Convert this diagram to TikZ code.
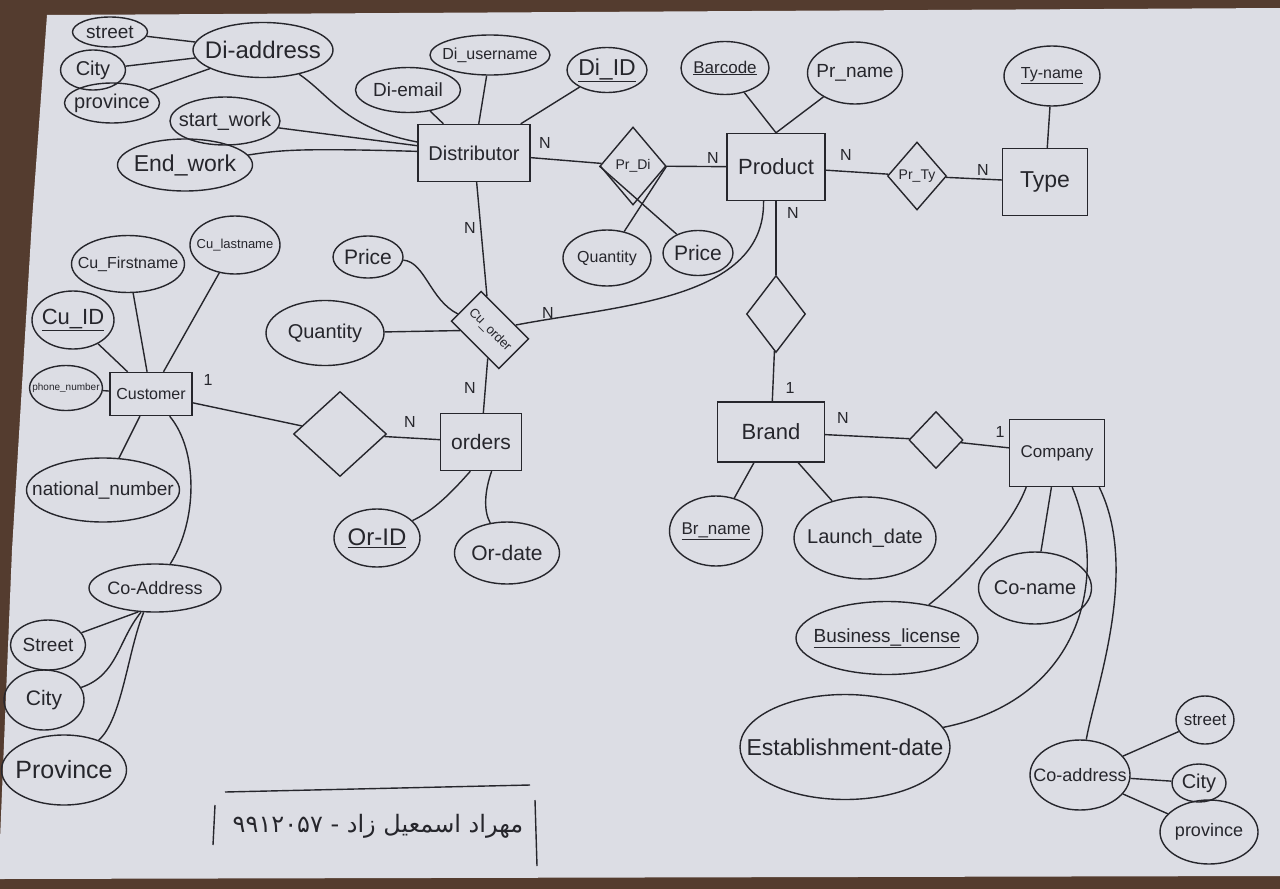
\documentclass[tikz,border=0pt]{standalone}
\usepackage{fontspec}
\setmainfont{Liberation Sans}
\newfontfamily\persianfont[Script=Arabic]{DejaVu Sans}
\TeXXeTstate=1
\usepackage{tikz}
\usetikzlibrary{shapes.geometric, calc, positioning}

\definecolor{ink}{RGB}{38,38,44}
\definecolor{paper}{RGB}{220,221,228}
\definecolor{desk}{RGB}{84,60,47}

\newcommand{\lbl}[1]{\makebox[0pt]{#1}}
\newcommand{\fs}[1]{\fontsize{#1}{#1}\selectfont}

\tikzset{
    sz/.style 2 args={minimum width=#1, minimum height=#2},
    entity/.style={draw=ink, line width=1.4pt, rectangle, inner sep=0pt, text=ink, font=\fs{20}},
    attr/.style={draw=ink, line width=1.4pt, ellipse, inner sep=0pt, text=ink, font=\fs{18}},
    rel/.style={draw=ink, line width=1.4pt, diamond, aspect=1, inner sep=0pt, text=ink, font=\fs{14}},
    card/.style={text=ink, font=\fs{16}},
    link/.style={draw=ink, line width=1.4pt},
}

\begin{document}
\begin{tikzpicture}[x=1pt, y=-1pt]
    % paper on the desk
    \fill[desk] (0,0) rectangle (1280,889);
    \fill[paper] (47,15) -- (1280,8) -- (1280,876) -- (0,879) -- (0,840) -- (12,550) -- (32,220) -- cycle;
    \useasboundingbox (0,0) rectangle (1280,889);

    % entities
    \node[entity, sz={112}{57}] (dist) at (474,153) {Distributor};
    \node[entity, sz={98}{67}, font=\fs{22}] (prod) at (776,167) {Product};
    \node[entity, sz={85}{67}, font=\fs{23}] (type) at (1045,182) {Type};
    \node[entity, sz={82}{43}, font=\fs{16}] (cust) at (151,394) {Customer};
    \node[entity, sz={81}{57}, font=\fs{21}] (ords) at (481,442) {orders};
    \node[entity, sz={107}{60}, font=\fs{22}] (brand) at (771,432) {Brand};
    \node[entity, sz={95}{67}, font=\fs{17}] (comp) at (1057,453) {Company};

    % relationships
    \node[rel, sz={66}{78}] (prdi) at (633,166) {Pr\_Di};
    \node[rel, sz={59}{68}] (prty) at (917,176) {Pr\_Ty};
    \node[draw=ink, line width=1.4pt, rectangle, rotate=-45, sz={67}{42}, inner sep=0pt, text=ink, font=\fs{13}] (cuo) at (490,330) {Cu\_order};
    \node[rel, sz={93}{85}] (cod) at (340,434) {};
    \node[rel, sz={59}{77}] (pbd) at (776,314) {};
    \node[rel, sz={54}{57}] (bcd) at (936,440) {};

    % attributes of Distributor
    \node[attr, sz={140}{55}, font=\fs{24}] (dadr) at (263,50) {\lbl{Di-address}};
    \node[attr, sz={75}{30}, font=\fs{19}] (st1) at (110,32) {\lbl{street}};
    \node[attr, sz={65}{40}, font=\fs{20}] (ct1) at (93,70) {\lbl{City}};
    \node[attr, sz={95}{40}, font=\fs{20}] (pv1) at (112,103) {\lbl{province}};
    \node[attr, sz={110}{48}, font=\fs{20}] (sw) at (225,121) {\lbl{start\_work}};
    \node[attr, sz={135}{52}, font=\fs{23}] (ew) at (185,165) {\lbl{End\_work}};
    \node[attr, sz={105}{45}, font=\fs{19}] (dem) at (408,90) {\lbl{Di-email}};
    \node[attr, sz={120}{40}, font=\fs{16}] (dun) at (490,55) {\lbl{Di\_username}};
    \node[attr, sz={80}{45}, font=\fs{23}] (did) at (607,70) {\lbl{\underline{Di\_ID}}};

    % attributes of Product, Type and Pr_Di
    \node[attr, sz={88}{53}, font=\fs{17}] (barc) at (725,68) {\lbl{\underline{Barcode}}};
    \node[attr, sz={95}{62}, font=\fs{19}] (prnm) at (855,73) {\lbl{Pr\_name}};
    \node[attr, sz={96}{60}, font=\fs{16}] (tynm) at (1052,76) {\lbl{\underline{Ty-name}}};
    \node[attr, sz={88}{56}, font=\fs{16}] (qt1) at (607,258) {\lbl{Quantity}};
    \node[attr, sz={70}{45}, font=\fs{21}] (pr1) at (698,253) {\lbl{Price}};

    % attributes of Customer
    \node[attr, sz={113}{57}, font=\fs{16}] (cfn) at (128,264) {\lbl{Cu\_Firstname}};
    \node[attr, sz={90}{58}, font=\fs{13}] (cln) at (235,245) {\lbl{Cu\_lastname}};
    \node[attr, sz={82}{58}, font=\fs{22}] (cid) at (73,320) {\lbl{\underline{Cu\_ID}}};
    \node[attr, sz={73}{45}, font=\fs{10}] (phn) at (66,388) {\lbl{phone\_number}};
    \node[attr, sz={153}{64}, font=\fs{19}] (nat) at (103,490) {\lbl{national\_number}};
    \node[attr, sz={132}{48}, font=\fs{18}] (cadr) at (155,588) {\lbl{Co-Address}};
    \node[attr, sz={75}{50}, font=\fs{19}] (st2) at (48,645) {\lbl{Street}};
    \node[attr, sz={80}{60}, font=\fs{21}] (ct2) at (44,700) {\lbl{City}};
    \node[attr, sz={125}{70}, font=\fs{25}] (pv2) at (64,770) {\lbl{Province}};

    % attributes of Cu_order and orders
    \node[attr, sz={70}{42}, font=\fs{21}] (pr2) at (368,257) {\lbl{Price}};
    \node[attr, sz={118}{65}, font=\fs{20}] (qt2) at (325,333) {\lbl{Quantity}};
    \node[attr, sz={86}{58}, font=\fs{24}] (orid) at (377,538) {\lbl{\underline{Or-ID}}};
    \node[attr, sz={105}{62}, font=\fs{21}] (ordt) at (507,553) {\lbl{Or-date}};

    % attributes of Brand and Company
    \node[attr, sz={93}{70}, font=\fs{17}] (brnm) at (716,531) {\lbl{\underline{Br\_name}}};
    \node[attr, sz={142}{82}, font=\fs{20}] (lnch) at (865,538) {\lbl{Launch\_date}};
    \node[attr, sz={113}{72}, font=\fs{20}] (cnm) at (1035,588) {\lbl{Co-name}};
    \node[attr, sz={182}{73}, font=\fs{19}] (bl) at (887,638) {\lbl{\underline{Business\_license}}};
    \node[attr, sz={210}{105}, font=\fs{23}] (est) at (845,747) {\lbl{Establishment-date}};
    \node[attr, sz={100}{70}, font=\fs{18}] (cad) at (1080,775) {\lbl{Co-address}};
    \node[attr, sz={58}{48}, font=\fs{17}] (st3) at (1205,720) {\lbl{street}};
    \node[attr, sz={54}{38}, font=\fs{20}] (ct3) at (1199,783) {\lbl{City}};
    \node[attr, sz={98}{64}, font=\fs{18}] (pv3) at (1209,832) {\lbl{province}};

    % cardinalities
    \node[card] (c1) at (545,143) {N};
    \node[card] (c2) at (713,158) {N};
    \node[card] (c3) at (846,155) {N};
    \node[card] (c4) at (983,170) {N};
    \node[card] (c5) at (470,228) {N};
    \node[card] (c6) at (793,213) {N};
    \node[card] (c7) at (548,313) {N};
    \node[card] (c8) at (470,388) {N};
    \node[card] (c9) at (208,380) {1};
    \node[card] (c10) at (410,422) {N};
    \node[card] (c11) at (790,388) {1};
    \node[card] (c12) at (843,418) {N};
    \node[card] (c13) at (1000,432) {1};

    % name and student number
    \node[text=ink, font=\persianfont\fs{24}] (sig) at (378,826) {\beginR مهراد اسمعیل زاد - \beginL ۹۹۱۲۰۵۷\endL{}\endR};

    \draw[link]
    (st1) edge (dadr)
    (ct1) edge (dadr)
    (pv1) edge (dadr)
    (sw) edge (dist)
    (dem) edge (dist)
    (dun) edge (dist)
    (did) edge (dist)
    (dist) edge (prdi)
    (prdi) edge (prod)
    (prdi.east) edge (qt1)
    (prdi.west) edge (pr1)
    (barc) edge (prod.north)
    (prnm) edge (prod.north)
    (prod) edge (prty)
    (prty) edge (type)
    (tynm) edge (type)
    (dist) edge (cuo)
    (qt2) edge (cuo)
    (cuo) edge (ords)
    (cfn) edge (cust)
    (cln) edge (cust)
    (cid) edge (cust)
    (phn) edge (cust)
    (nat) edge (cust)
    (cust) edge (cod)
    (cod) edge (ords)
    (prod) edge (pbd)
    (pbd) edge (brand)
    (brand) edge (brnm)
    (brand) edge (lnch)
    (brand) edge (bcd)
    (bcd) edge (comp)
    (comp) edge (cnm)
    (cad) edge (st3)
    (cad) edge (ct3)
    (cad) edge (pv3);

    \draw[link] (dadr) .. controls (330,95) and (345,128) .. (dist);
    \draw[link] (ew) .. controls (280,150) and (300,148) .. (dist);
    \draw[link] (pr2) .. controls (425,262) and (430,300) .. (cuo);
    \draw[link] (prod.250) .. controls (765,300) and (620,305) .. (cuo);
    \draw[link] (cust) .. controls (198,450) and (198,520) .. (cadr);
    \draw[link] (cadr.235) -- (st2);
    \draw[link] (cadr.240) .. controls (118,640) and (118,675) .. (ct2);
    \draw[link] (cadr.245) .. controls (128,650) and (122,720) .. (pv2);
    \draw[link] (ords.250) .. controls (445,500) and (430,512) .. (orid);
    \draw[link] (ords.290) .. controls (485,490) and (483,510) .. (ordt);
    \draw[link] (comp.228) .. controls (1010,530) and (960,580) .. (bl);
    \draw[link] (comp.294) .. controls (1110,580) and (1080,700) .. (est);
    \draw[link] (comp.321) .. controls (1140,570) and (1095,690) .. (cad);

    % frame round the name
    \draw[link] (225,792) -- (530,785);
    \draw[link] (215,805) -- (213,845);
    \draw[link] (535,800) -- (537,866);
\end{tikzpicture}
\end{document}
